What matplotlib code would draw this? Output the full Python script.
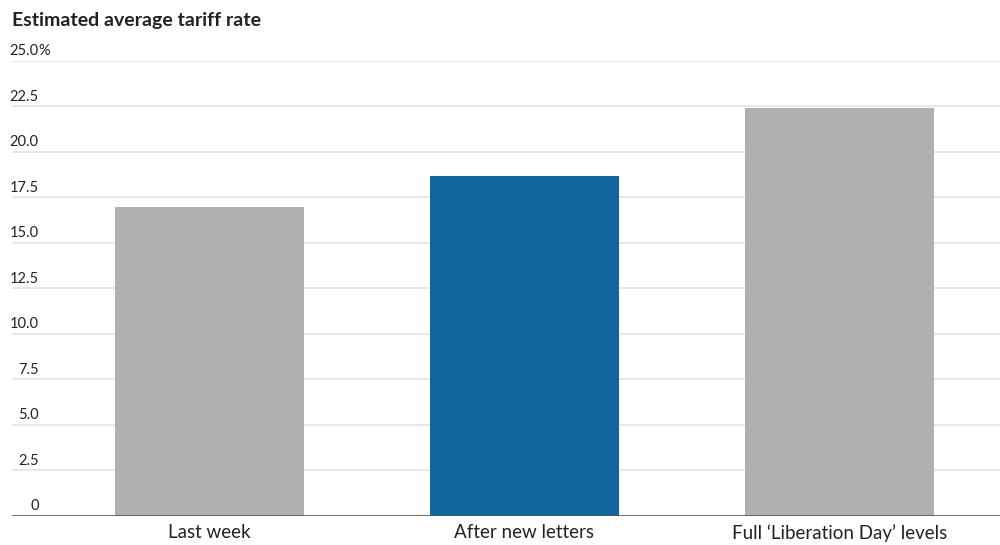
import matplotlib.pyplot as plt

# data
categories = ["Last week", "After new letters", "Full \u2018Liberation Day\u2019 levels"]
rates = [17.0, 18.7, 22.4]
bar_colors = ["#b0b0b0", "#0f659c", "#b0b0b0"]
y_ticks = [0, 2.5, 5.0, 7.5, 10.0, 12.5, 15.0, 17.5, 20.0, 22.5, 25.0]
y_tick_labels = ["0", "2.5", "5.0", "7.5", "10.0", "12.5", "15.0", "17.5", "20.0", "22.5", "25.0"]

plt.rcParams["font.family"] = ["Lato", "DejaVu Sans"]

fig = plt.figure(figsize=(10, 5.45), dpi=100)
ax = fig.add_axes([0.012, 0.0532, 0.988, 0.835])

# gridlines
for t in y_ticks[1:]:
    ax.axhline(t, color="#e3e3e3", linewidth=1.2, zorder=0)
ax.axhline(0, color="#555555", linewidth=1.2, zorder=3)

x = list(range(len(categories)))
ax.bar(x, rates, width=0.6, color=bar_colors, zorder=2)

ax.set_xlim(-0.627, 2.51)
ax.set_ylim(0, 25)

# y labels sit above gridlines, right-aligned, % hangs on the top one
trans = ax.get_yaxis_transform()
for t, lab in zip(y_ticks, y_tick_labels):
    ax.annotate(lab, xy=(0.027, t), xycoords=trans, xytext=(0, 2),
                textcoords="offset points", ha="right", va="bottom",
                fontsize=10.5, color="#222222")
ax.annotate("%", xy=(0.027, 25.0), xycoords=trans, xytext=(0, 2),
            textcoords="offset points", ha="left", va="bottom",
            fontsize=10.5, color="#222222")

ax.set_yticks([])
ax.set_xticks(x)
ax.set_xticklabels(categories, fontsize=13.5, color="#222222")
ax.tick_params(axis="x", length=0, pad=6)
for s in ax.spines.values():
    s.set_visible(False)

fig.text(0.012, 0.978, "Estimated average tariff rate", fontsize=14,
         fontweight="bold", color="#222222", ha="left", va="top")

fig.savefig("out.png", dpi=100)
